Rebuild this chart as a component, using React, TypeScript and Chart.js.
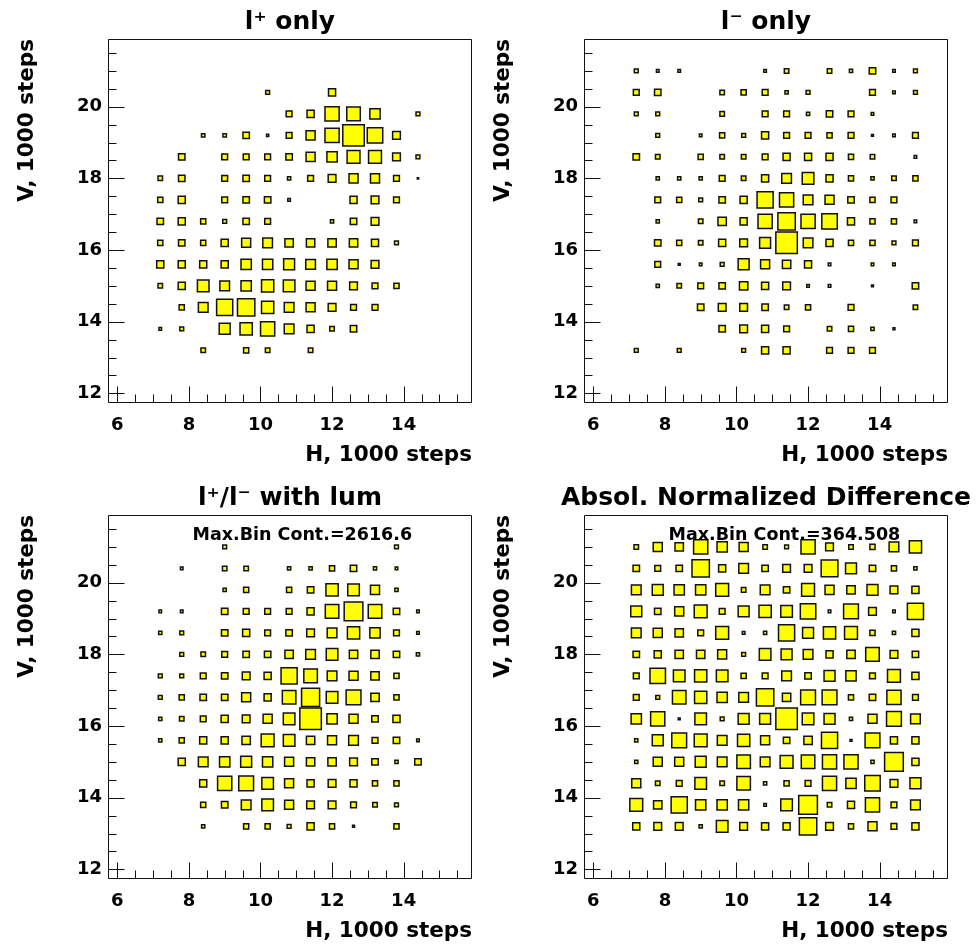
import React, { useEffect, useRef } from 'react';
import { Chart, registerables } from 'chart.js';

Chart.register(...registerables);

// Bin centres (1000 steps)
const H_CENTERS = [7.2, 7.8, 8.4, 9.0, 9.6, 10.2, 10.8, 11.4, 12.0, 12.6, 13.2, 13.8, 14.4, 15.0];
const V_CENTERS = [21.0, 20.4, 19.8, 19.2, 18.6, 18.0, 17.4, 16.8, 16.2, 15.6, 15.0, 14.4, 13.8, 13.2];
const BIN_WIDTH = 0.6;

// Axis ranges and tick labels
const H_RANGE = [5.74, 15.91];
const V_RANGE = [11.73, 21.89];
const H_TICKS = [6, 8, 10, 12, 14];
const V_TICKS = [12, 14, 16, 18, 20];

// Cell contents, % of the panel's maximum bin (rows from V=21.0 down to V=13.2)
const L_PLUS_ONLY = [
  [0, 0, 0, 0, 0, 0, 0, 0, 0, 0, 0, 0, 0, 0],
  [0, 0, 0, 0, 0, 18, 0, 0, 33, 0, 0, 0, 0, 0],
  [0, 0, 0, 0, 0, 0, 27, 33, 66, 63, 48, 0, 18, 0],
  [0, 0, 16, 16, 30, 10, 27, 42, 66, 100, 72, 36, 0, 0],
  [0, 30, 0, 27, 27, 27, 30, 42, 48, 60, 60, 36, 18, 0],
  [21, 30, 0, 27, 30, 27, 15, 27, 36, 42, 42, 27, 6, 0],
  [24, 33, 0, 27, 30, 30, 12, 0, 0, 33, 36, 27, 0, 0],
  [30, 33, 24, 18, 30, 27, 0, 0, 15, 30, 36, 0, 0, 0],
  [24, 30, 24, 33, 42, 45, 39, 39, 39, 39, 33, 18, 0, 0],
  [33, 33, 33, 33, 48, 48, 51, 45, 48, 42, 36, 0, 0, 0],
  [21, 33, 54, 45, 48, 57, 54, 42, 42, 36, 27, 24, 0, 0],
  [0, 24, 45, 75, 81, 57, 45, 42, 36, 27, 27, 0, 0, 0],
  [12, 18, 0, 51, 57, 66, 45, 33, 21, 30, 0, 0, 0, 0],
  [0, 0, 21, 0, 24, 21, 0, 21, 0, 0, 0, 0, 0, 0],
];

const L_MINUS_ONLY = [
  [18, 12, 12, 0, 0, 0, 12, 21, 0, 21, 15, 30, 12, 18],
  [27, 30, 0, 0, 21, 24, 27, 15, 18, 0, 0, 27, 12, 18],
  [18, 18, 0, 0, 21, 0, 27, 27, 15, 30, 27, 12, 0, 0],
  [0, 18, 0, 12, 24, 18, 33, 27, 27, 24, 27, 9, 12, 27],
  [30, 21, 0, 24, 21, 21, 27, 33, 33, 33, 24, 21, 0, 12],
  [0, 15, 15, 15, 27, 21, 33, 45, 54, 33, 24, 15, 21, 24],
  [0, 27, 24, 18, 30, 33, 75, 66, 45, 42, 30, 24, 27, 0],
  [0, 15, 0, 21, 39, 33, 66, 81, 66, 72, 33, 24, 24, 12],
  [0, 30, 24, 21, 33, 36, 51, 100, 45, 33, 24, 24, 18, 27],
  [0, 27, 9, 12, 18, 51, 42, 39, 33, 12, 0, 12, 12, 0],
  [0, 15, 21, 27, 30, 39, 33, 36, 12, 12, 0, 9, 0, 30],
  [0, 0, 0, 30, 36, 36, 30, 21, 24, 0, 27, 0, 0, 21],
  [0, 0, 0, 0, 30, 36, 33, 27, 0, 21, 24, 15, 9, 0],
  [18, 0, 18, 0, 0, 18, 33, 33, 0, 27, 27, 27, 0, 0],
];

const RATIO_WITH_LUM = [
  [0, 0, 0, 18, 0, 0, 0, 0, 0, 0, 0, 18, 0, 0],
  [0, 12, 0, 21, 21, 0, 15, 15, 24, 30, 15, 12, 0, 0],
  [0, 0, 0, 15, 24, 0, 24, 30, 57, 54, 42, 15, 0, 0],
  [12, 12, 0, 30, 27, 27, 27, 33, 63, 87, 63, 30, 12, 0],
  [15, 18, 0, 30, 33, 27, 30, 36, 45, 57, 48, 27, 12, 0],
  [0, 18, 21, 27, 30, 30, 39, 45, 54, 39, 39, 30, 15, 0],
  [18, 18, 27, 30, 36, 33, 75, 63, 45, 42, 39, 24, 0, 0],
  [18, 24, 30, 30, 42, 33, 63, 84, 54, 69, 39, 24, 0, 0],
  [15, 21, 27, 33, 36, 42, 54, 100, 48, 42, 30, 33, 0, 0],
  [15, 24, 33, 33, 39, 60, 54, 39, 42, 45, 27, 30, 12, 0],
  [0, 33, 45, 48, 51, 48, 42, 39, 39, 36, 30, 15, 30, 0],
  [0, 0, 33, 66, 69, 54, 42, 33, 36, 33, 24, 24, 0, 0],
  [0, 0, 24, 30, 45, 54, 42, 36, 36, 27, 21, 18, 0, 0],
  [0, 0, 15, 0, 24, 24, 18, 33, 24, 9, 0, 24, 0, 0],
];

const ABS_NORM_DIFF = [
  [21, 42, 39, 66, 48, 42, 21, 18, 66, 36, 21, 24, 45, 57],
  [30, 27, 30, 81, 33, 45, 30, 36, 36, 78, 51, 30, 24, 15],
  [45, 51, 48, 48, 60, 21, 45, 30, 60, 42, 39, 51, 36, 33],
  [51, 30, 42, 60, 27, 51, 57, 54, 72, 12, 69, 36, 12, 75],
  [45, 42, 39, 27, 60, 12, 15, 75, 51, 57, 60, 24, 15, 33],
  [30, 33, 39, 39, 42, 18, 54, 51, 45, 33, 39, 63, 36, 30],
  [27, 72, 54, 57, 54, 24, 27, 45, 30, 51, 48, 27, 60, 33],
  [27, 18, 63, 57, 48, 45, 81, 39, 69, 69, 24, 30, 66, 27],
  [48, 66, 9, 54, 18, 51, 51, 100, 54, 51, 15, 42, 69, 45],
  [15, 51, 69, 60, 45, 57, 42, 30, 39, 75, 9, 69, 33, 33],
  [15, 42, 42, 51, 45, 63, 45, 60, 63, 66, 66, 15, 87, 33],
  [42, 21, 27, 54, 21, 63, 15, 24, 27, 66, 48, 72, 36, 51],
  [60, 39, 75, 48, 48, 48, 12, 54, 87, 21, 33, 66, 27, 45],
  [33, 36, 36, 15, 54, 36, 33, 33, 81, 36, 24, 42, 27, 33],
];

const TITLES = ['l\u207A only', 'l\u207B only', 'l\u207A/l\u207B with lum', 'Absol. Normalized Difference'];
const NOTES = ['', '', 'Max.Bin Cont.=2616.6', 'Max.Bin Cont.=364.508'];
const X_TITLE = 'H, 1000 steps';
const Y_TITLE = 'V, 1000 steps';

const FONT = "'DejaVu Sans', 'Liberation Sans', sans-serif";

type Cell = { x: number; y: number; v: number };

function toCells(matrix: number[][]): Cell[] {
  const out: Cell[] = [];
  matrix.forEach((row, r) =>
    row.forEach((v, c) => {
      if (v > 0) out.push({ x: H_CENTERS[c], y: V_CENTERS[r], v });
    })
  );
  return out;
}

const rootFrame = {
  id: 'rootFrame',
  afterDraw(chart: any, _args: any, opts: any) {
    const { ctx, chartArea: a } = chart;
    const xs = chart.scales.x;
    const ys = chart.scales.y;
    ctx.save();
    ctx.strokeStyle = '#111';
    ctx.lineWidth = 1;
    ctx.beginPath();
    ctx.rect(Math.round(a.left) + 0.5, Math.round(a.top) + 0.5, Math.round(a.right - a.left) - 1, Math.round(a.bottom - a.top) - 1);
    ctx.stroke();
    ctx.beginPath();
    const bottom = Math.round(a.bottom) - 0.5;
    const left = Math.round(a.left) + 0.5;
    for (let v = Math.ceil(xs.min * 2) / 2; v <= xs.max + 1e-9; v += 0.5) {
      const px = Math.round(xs.getPixelForValue(v)) + 0.5;
      const major = Math.abs(v / 2 - Math.round(v / 2)) < 1e-6;
      const len = major ? 16 : 8;
      ctx.moveTo(px, bottom);
      ctx.lineTo(px, bottom - len);
    }
    for (let v = Math.ceil(ys.min * 2) / 2; v <= ys.max + 1e-9; v += 0.5) {
      const py = Math.round(ys.getPixelForValue(v)) + 0.5;
      const major = Math.abs(v / 2 - Math.round(v / 2)) < 1e-6;
      const len = major ? 16 : 8;
      ctx.moveTo(left, py);
      ctx.lineTo(left + len, py);
    }
    ctx.stroke();
    if (opts && opts.note) {
      ctx.font = `bold 17.5px ${FONT}`;
      ctx.fillStyle = '#000';
      ctx.textBaseline = 'alphabetic';
      ctx.textAlign = 'left';
      ctx.fillText(opts.note, a.left + 84.5, a.top + 25);
    }
    ctx.restore();
  },
};

function Panel({ idx, matrix, left, top }: { idx: number; matrix: number[][]; left: number; top: number }) {
  const ref = useRef<HTMLCanvasElement | null>(null);
  useEffect(() => {
    if (!ref.current) return;
    const cells = toCells(matrix);
    const vmax = Math.max(...cells.map((c) => c.v));
    const tickFont = { family: FONT, size: 18, weight: 'bold' as const };
    const axisFont = { family: FONT, size: 21.5, weight: 'bold' as const };
    const radius = (ctx: any) => {
      const raw = ctx.raw as Cell | undefined;
      if (!raw) return 0;
      const xs = ctx.chart.scales.x;
      const binPx = Math.abs(xs.getPixelForValue(BIN_WIDTH) - xs.getPixelForValue(0));
      const side = (raw.v / vmax) * binPx;
      return side / Math.SQRT2;
    };
    const chart = new Chart(ref.current, {
      type: 'scatter',
      data: {
        datasets: [
          {
            data: cells as any,
            pointStyle: 'rect',
            pointRadius: radius,
            pointHoverRadius: radius,
            pointBackgroundColor: '#ffff00',
            pointBorderColor: '#111111',
            pointBorderWidth: 1.5,
            showLine: false,
          } as any,
        ],
      },
      options: {
        responsive: false,
        animation: false,
        events: [],
        layout: { padding: 0, autoPadding: false } as any,
        plugins: {
          legend: { display: false },
          tooltip: { enabled: false },
          title: {
            display: true,
            text: TITLES[idx],
            color: '#000',
            font: { family: FONT, size: 25, weight: 'bold' },
            padding: { top: 7.85, bottom: 1.15 },
          },
          rootFrame: { note: NOTES[idx] },
        } as any,
        scales: {
          x: {
            type: 'linear',
            min: H_RANGE[0],
            max: H_RANGE[1],
            grid: { display: false, drawTicks: false },
            border: { display: false },
            afterBuildTicks: (s: any) => {
              s.ticks = H_TICKS.map((value) => ({ value }));
            },
            afterFit: (s: any) => {
              s.height = 73;
            },
            ticks: {
              autoSkip: false,
              maxRotation: 0,
              padding: 12,
              color: '#000',
              font: tickFont,
              callback: (v: any) => String(v),
            },
            title: {
              display: true,
              text: X_TITLE,
              align: 'end',
              color: '#000',
              font: axisFont,
              padding: { top: 0, bottom: 7.2 },
            },
          },
          y: {
            type: 'linear',
            min: V_RANGE[0],
            max: V_RANGE[1],
            grid: { display: false, drawTicks: false },
            border: { display: false },
            afterBuildTicks: (s: any) => {
              s.ticks = V_TICKS.map((value) => ({ value }));
            },
            afterFit: (s: any) => {
              s.width = 108;
            },
            ticks: {
              autoSkip: false,
              padding: 6,
              color: '#000',
              font: tickFont,
              callback: (v: any) => String(v),
            },
            title: {
              display: true,
              text: Y_TITLE,
              align: 'end',
              color: '#000',
              font: axisFont,
              padding: { top: 14.7, bottom: 0 },
            },
          },
          // empty right-hand margin, keeps the title centred on the frame
          yRight: {
            type: 'linear',
            position: 'right',
            display: true,
            min: V_RANGE[0],
            max: V_RANGE[1],
            grid: { display: false, drawTicks: false },
            border: { display: false },
            ticks: { display: false },
            afterFit: (s: any) => {
              s.width = 108;
            },
          },
        } as any,
      },
      plugins: [rootFrame],
    });
    return () => chart.destroy();
  }, [idx, matrix]);
  return (
    <canvas
      ref={ref}
      width={580}
      height={476}
      style={{ position: 'absolute', left, top, width: 580, height: 476 }}
    />
  );
}

export default function App() {
  return (
    <div
      style={{
        position: 'absolute',
        left: 0,
        top: 0,
        width: 980,
        height: 946,
        overflow: 'hidden',
        background: '#fff',
      }}
    >
      <Panel idx={0} matrix={L_PLUS_ONLY} left={0} top={0} />
      <Panel idx={1} matrix={L_MINUS_ONLY} left={476} top={0} />
      <Panel idx={2} matrix={RATIO_WITH_LUM} left={0} top={476} />
      <Panel idx={3} matrix={ABS_NORM_DIFF} left={476} top={476} />
    </div>
  );
}
